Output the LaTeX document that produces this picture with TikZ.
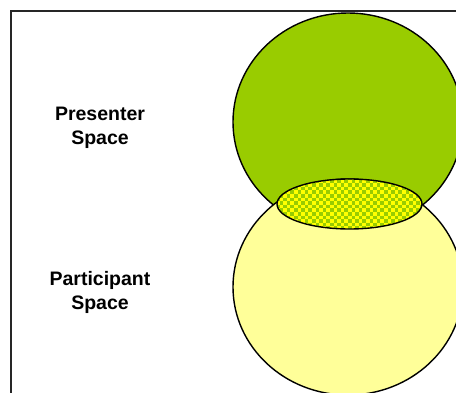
\documentclass[tikz,border=0pt]{standalone}
\usepackage{fontspec}
\setmainfont{Liberation Sans}
\definecolor{topgreen}{HTML}{99CC00}
\definecolor{lowyellow}{HTML}{FFFF99}
\definecolor{chkyellow}{HTML}{FFFF00}
\tikzset{
  frame/.style={draw=black!85, line width=2pt},
  blob/.style={draw=black, line width=1.4pt},
  lbl/.style={font=\fontsize{19.5}{24}\selectfont\bfseries, align=center}
}
\begin{document}
\begin{tikzpicture}[x=1pt,y=-1pt]
\useasboundingbox (0,0) rectangle (456,393);
\fill[white] (0,0) rectangle (456,393);
\begin{scope}
\clip (0,0) rectangle (456,393);
\draw[frame] (10.5,400) -- (10.5,11.5) -- (470,11.5);
\draw[blob, fill=topgreen] (348,122) ellipse [x radius=115, y radius=109];
\draw[blob, fill=lowyellow] (348,287) ellipse [x radius=115, y radius=108];
\fill[chkyellow] (349.5,204) ellipse [x radius=72.5, y radius=25];
\begin{scope}
\clip (349.5,204) ellipse [x radius=72.5, y radius=25];
\foreach \i in {0,...,21} {
  \foreach \j in {0,...,8} {
    \fill[topgreen] (276+7.2*\i,176+7.2*\j) rectangle ++(3.6,3.6);
    \fill[topgreen] (279.6+7.2*\i,179.6+7.2*\j) rectangle ++(3.6,3.6);
  }
}
\end{scope}
\draw[blob] (349.5,204) ellipse [x radius=72.5, y radius=25];
\end{scope}
\node[lbl] (pres) at (100,127.5) {Presenter\\Space};
\node[lbl] (part) at (100,292.5) {Participant\\Space};
\end{tikzpicture}
\end{document}
